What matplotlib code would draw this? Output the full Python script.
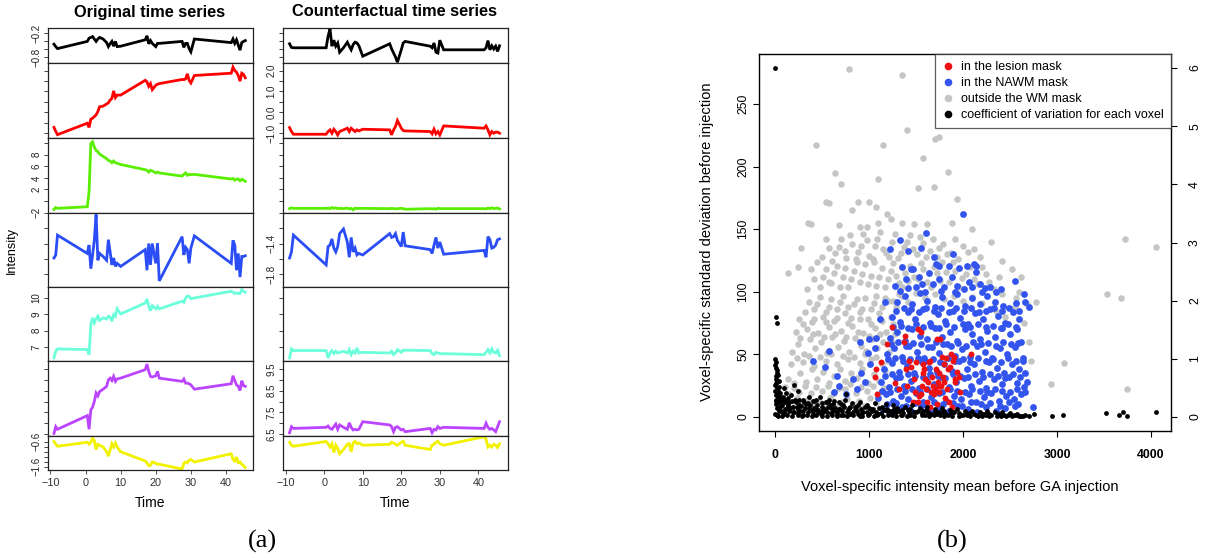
import matplotlib
matplotlib.use('Agg')
import matplotlib.pyplot as plt
from matplotlib.lines import Line2D
import numpy as np

plt.rcParams['font.family'] = ['Liberation Sans', 'DejaVu Sans']

# ---------------- (a) time series ----------------
t = [-9, -8.5, -8, 0.5, 1, 1.5, 2, 2.5, 3, 3.5, 4, 5, 6, 6.5, 7, 7.5, 8, 8.5, 9, 10,
     17, 17.5, 18, 18.5, 19, 20, 20.5, 21, 27.5, 28, 28.5, 29, 29.5, 30, 31,
     41.5, 42, 42.5, 43, 43.5, 44, 44.5, 45, 45.5]

orig_black = [-0.48, -0.54, -0.59, -0.41, -0.33, -0.31, -0.29, -0.35, -0.41, -0.35, -0.31, -0.35,
              -0.44, -0.54, -0.47, -0.41, -0.53, -0.41, -0.54, -0.53, -0.37, -0.27, -0.47, -0.39,
              -0.46, -0.54, -0.46, -0.46, -0.41, -0.56, -0.46, -0.46, -0.59, -0.67, -0.35,
              -0.44, -0.35, -0.46, -0.37, -0.50, -0.63, -0.44, -0.41, -0.39]
orig_red = [-0.73, -0.92, -1.08, -0.53, -0.73, -0.34, -0.29, -0.21, -0.13, 0.03, 0.26, 0.29,
            0.39, 0.45, 0.58, 0.66, 1.02, 0.70, 0.82, 0.82, 1.53, 1.45, 1.24, 1.37,
            1.08, 1.29, 1.34, 1.37, 1.57, 1.56, 1.60, 1.84, 1.53, 1.40, 1.76,
            1.87, 2.16, 2.00, 1.92, 1.76, 1.49, 1.87, 1.81, 1.65]
orig_green = [-1.43, -1.1, -1.25, -0.97, 1.6, 9.9, 10.2, 9.3, 8.7, 8.5, 8.1, 7.7,
              7.3, 7.0, 6.9, 6.6, 6.9, 6.6, 6.5, 6.3, 5.4, 5.3, 5.0, 5.3,
              5.2, 4.85, 5.0, 4.85, 4.3, 4.6, 4.85, 4.45, 4.6, 4.55, 4.6,
              3.8, 3.9, 3.6, 3.75, 3.8, 3.5, 3.75, 3.6, 3.4]
orig_blue = [-1.59, -1.55, -1.29, -1.53, -1.42, -1.73, -1.55, -1.35, -1.02, -1.62, -1.53, -1.57,
             -1.62, -1.35, -1.51, -1.68, -1.59, -1.70, -1.66, -1.70, -1.48, -1.75, -1.40, -1.68,
             -1.40, -1.66, -1.40, -1.89, -1.31, -1.55, -1.45, -1.48, -1.66, -1.46, -1.30,
             -1.66, -1.36, -1.42, -1.75, -1.53, -1.84, -1.57, -1.57, -1.56]
orig_cyan = [6.33, 6.74, 6.88, 6.84, 6.53, 8.37, 8.78, 8.47, 8.71, 8.88, 8.63, 8.78,
             8.71, 8.88, 8.82, 8.57, 8.98, 8.88, 9.33, 9.02, 9.69, 9.94, 9.49, 9.22,
             9.53, 9.33, 9.49, 9.33, 9.80, 9.73, 10.0, 10.1, 10.1, 9.96, 10.0,
             10.41, 10.35, 10.27, 10.31, 10.27, 10.27, 10.51, 10.41, 10.35]
orig_purple = [6.53, 6.84, 6.72, 7.35, 6.72, 7.61, 7.74, 8.0, 8.39, 8.26, 8.46, 8.57,
               8.70, 9.0, 9.08, 8.97, 9.16, 8.93, 9.04, 9.08, 9.47, 9.73, 9.39, 9.16,
               9.13, 9.19, 9.39, 9.08, 8.93, 9.04, 8.85, 8.85, 8.82, 8.77, 8.57,
               8.82, 9.19, 8.97, 8.77, 8.70, 8.51, 8.96, 8.73, 8.70]
orig_yellow = [-0.60, -0.71, -0.79, -0.63, -0.71, -0.63, -0.47, -0.56, -0.92, -0.71, -0.75, -0.82,
               -1.01, -1.19, -0.94, -0.69, -0.82, -0.66, -0.82, -1.01, -1.38, -1.45, -1.57, -1.55,
               -1.42, -1.47, -1.51, -1.51, -1.70, -1.47, -1.42, -1.45, -1.35, -1.32, -1.42,
               -1.09, -1.32, -1.38, -1.22, -1.45, -1.42, -1.51, -1.57, -1.64]

cf_black = [-0.47, -0.56, -0.57, -0.57, -0.28, -0.10, -0.53, -0.38, -0.53, -0.45, -0.68, -0.57,
            -0.43, -0.53, -0.62, -0.49, -0.43, -0.45, -0.52, -0.78, -0.47, -0.60, -0.70, -0.80,
            -0.93, -0.62, -0.45, -0.41, -0.53, -0.57, -0.45, -0.68, -0.70, -0.38, -0.62,
            -0.62, -0.57, -0.39, -0.62, -0.52, -0.60, -0.53, -0.66, -0.52]
cf_red = [-0.74, -0.93, -1.06, -1.06, -0.93, -0.85, -1.01, -0.82, -0.93, -1.09, -0.93, -0.85,
          -0.77, -0.93, -0.77, -0.85, -0.93, -0.85, -0.90, -0.82, -0.85, -1.09, -0.85, -0.69,
          -0.40, -0.77, -0.88, -0.90, -0.93, -1.04, -0.82, -1.04, -0.93, -1.09, -0.66,
          -0.77, -0.66, -0.85, -1.09, -0.93, -1.01, -0.96, -0.96, -1.01]
cf_green = [-1.3, -1.15, -1.25, -1.25, -1.2, -1.3, -1.1, -1.25, -1.15, -1.3, -1.25, -1.3,
            -1.2, -1.35, -1.25, -1.5, -1.2, -1.3, -1.25, -1.25, -1.3, -1.25, -1.3, -1.35,
            -1.3, -1.25, -1.3, -1.4, -1.3, -1.35, -1.3, -1.4, -1.25, -1.3, -1.3,
            -1.3, -1.35, -1.2, -1.3, -1.15, -1.3, -1.25, -1.2, -1.35]
cf_blue = [-1.59, -1.51, -1.29, -1.68, -1.44, -1.42, -1.34, -1.46, -1.51, -1.44, -1.27, -1.21,
           -1.38, -1.58, -1.32, -1.51, -1.46, -1.55, -1.53, -1.55, -1.27, -1.32, -1.31, -1.27,
           -1.36, -1.44, -1.25, -1.43, -1.48, -1.53, -1.42, -1.32, -1.46, -1.38, -1.54,
           -1.49, -1.58, -1.31, -1.35, -1.46, -1.45, -1.42, -1.35, -1.34]
cf_cyan = [6.33, 6.88, 6.78, 6.78, 6.33, 6.63, 6.78, 6.59, 6.74, 6.63, 6.67, 6.74,
           6.63, 6.84, 6.53, 6.74, 6.63, 6.94, 6.63, 6.67, 6.63, 6.74, 6.53, 6.63,
           6.84, 6.67, 6.80, 6.80, 6.78, 6.59, 6.53, 6.67, 6.63, 6.59, 6.59,
           6.53, 6.67, 6.84, 6.63, 6.88, 6.67, 6.63, 6.80, 6.47]
cf_purple = [6.56, 6.84, 6.76, 6.81, 6.87, 6.76, 6.72, 6.84, 6.96, 6.72, 6.92, 6.81,
             6.72, 7.02, 6.81, 6.69, 6.72, 6.69, 6.72, 7.07, 6.92, 6.84, 6.61, 6.81,
             6.84, 6.69, 6.72, 6.61, 6.76, 6.56, 6.72, 6.69, 6.84, 6.76, 6.81,
             6.76, 7.0, 6.81, 6.72, 6.76, 6.69, 6.61, 6.84, 7.07]
cf_yellow = [-0.63, -0.75, -0.79, -0.60, -0.69, -0.82, -0.69, -1.04, -0.75, -0.88, -1.09, -0.92,
             -0.71, -0.69, -1.01, -0.66, -0.59, -0.69, -0.66, -0.75, -0.71, -0.63, -0.66, -0.71,
             -0.75, -0.63, -0.59, -0.75, -0.92, -0.75, -0.71, -0.63, -0.59, -0.69, -0.75,
             -0.41, -0.50, -0.82, -0.75, -0.82, -0.71, -0.75, -0.84, -0.69]

time_ticks = [-10, 0, 10, 20, 30, 40]

# ---------------- (b) scatter ----------------
gray_pts = [
    (120, 12), (180, 8), (230, 15), (290, 10), (350, 14), (410, 9), (470, 13), (530, 11), (590, 15),
    (650, 8), (710, 12), (770, 14), (830, 10), (890, 13), (950, 9), (1010, 15), (1080, 11), (150, 18),
    (260, 20), (380, 19), (500, 21), (620, 18), (740, 22), (860, 19), (980, 21), (1100, 18),
    (110, 24), (200, 23), (320, 25), (440, 24), (560, 25), (680, 23), (800, 26), (920, 24), (1040, 25),
    (1160, 23),
    (140, 30), (200, 27), (270, 35), (330, 28), (390, 38), (450, 30), (510, 36), (570, 27), (630, 33),
    (690, 38), (750, 29), (810, 35), (870, 31), (930, 38), (990, 27), (1050, 34), (1110, 29),
    (1170, 37), (170, 42), (300, 44), (420, 41), (540, 45), (660, 42), (780, 46), (900, 43),
    (1020, 46), (1140, 42),
    (230, 47), (360, 49), (480, 48), (600, 50), (720, 49), (840, 48), (960, 50), (1080, 48), (1200, 45),
    (180, 52), (240, 58), (310, 50), (370, 62), (430, 55), (490, 60), (550, 51), (610, 64), (670, 56),
    (730, 61), (790, 52), (850, 63), (910, 57), (970, 53), (1030, 62), (1090, 55), (1150, 60),
    (1210, 52), (220, 68), (340, 70), (460, 67), (580, 72), (700, 69), (820, 73), (940, 67),
    (1060, 71), (1180, 68), (1280, 66),
    (270, 63), (400, 66), (520, 64), (640, 66), (760, 64), (880, 68), (1000, 65), (1120, 66), (1240, 60),
    (300, 74), (420, 78), (540, 76), (660, 79), (780, 75), (900, 78), (1020, 74), (1140, 77), (1260, 74),
    (260, 78), (320, 84), (390, 76), (450, 90), (510, 80), (570, 88), (630, 77), (690, 92), (750, 83),
    (810, 79), (870, 94), (930, 86), (990, 78), (1050, 91), (1110, 83), (1170, 95), (1230, 80),
    (1290, 88), (1350, 97), (1420, 92), (1500, 99), (1600, 95), (1700, 98), (1800, 94), (1900, 97),
    (2000, 93), (2100, 96), (2200, 91), (2350, 85), (2450, 80), (2550, 88), (2680, 90), (2780, 92),
    (360, 92), (480, 96), (600, 94), (720, 97), (840, 90), (960, 95), (1080, 97), (1200, 93),
    (1320, 98), (420, 86), (540, 84), (660, 86), (780, 88), (900, 84), (1020, 86), (1140, 88),
    (1260, 93),
    (340, 102), (420, 110), (480, 104), (540, 118), (600, 107), (660, 121), (720, 112), (780, 104),
    (840, 117), (900, 108), (960, 122), (1020, 113), (1080, 105), (1140, 119), (1200, 110),
    (1260, 123), (1320, 107), (1380, 115), (1440, 121), (1520, 110), (1580, 118), (1660, 104),
    (1720, 115), (1780, 124), (1850, 108), (1920, 117), (1990, 111), (2080, 120), (2160, 106),
    (2240, 114), (2330, 102), (2420, 98),
    (380, 118), (450, 124), (510, 112), (570, 108), (630, 115), (690, 104), (750, 119), (810, 110),
    (870, 124), (930, 114), (990, 106), (1050, 124), (1110, 112), (1170, 104), (1230, 117),
    (1290, 113), (1350, 104), (1410, 109), (1480, 112), (1550, 123), (1620, 108), (1690, 120),
    (1760, 109), (1820, 116), (1890, 124), (1960, 104), (2030, 114), (2120, 110), (2200, 120),
    (2280, 108), (2380, 112),
    (500, 128), (570, 135), (640, 131), (700, 142), (760, 127), (820, 138), (880, 132), (940, 146),
    (1000, 129), (1060, 137), (1120, 148), (1180, 131), (1240, 140), (1310, 127), (1370, 136),
    (1440, 145), (1510, 130), (1580, 139), (1650, 133), (1720, 128), (1790, 138), (1870, 131),
    (1950, 126), (2050, 132), (2180, 128), (680, 153), (980, 152), (1100, 155), (1230, 158),
    (1620, 154),
    (540, 142), (610, 125), (680, 136), (740, 133), (800, 145), (860, 126), (920, 137), (980, 141),
    (1040, 126), (1090, 142), (1150, 134), (1210, 128), (1280, 146), (1340, 131), (1400, 140),
    (1470, 134), (1540, 144), (1610, 128), (1680, 142), (1750, 135), (1830, 130), (1910, 142),
    (2000, 137), (2120, 134),
    (140, 115), (250, 120), (280, 135), (350, 155), (385, 154), (440, 217), (540, 172), (570, 171),
    (640, 195), (700, 186), (790, 278), (820, 165), (880, 172), (900, 152), (1000, 172), (1070, 168),
    (1100, 190), (1150, 217), (1190, 162), (1350, 273), (1400, 229), (1350, 155), (1480, 154),
    (1520, 183), (1570, 207), (1700, 222), (1745, 224), (1690, 184), (1840, 196), (1940, 174),
    (1880, 155), (2100, 150), (2300, 140), (2420, 125), (2520, 118), (2620, 112), (3720, 142),
    (4050, 136), (3530, 98), (3680, 95), (3070, 43), (2940, 26), (3740, 22),
    (2600, 100), (2650, 75), (2700, 60), (2720, 45), (2560, 95),
]
blue_pts = [
    (1150, 6), (1250, 4), (1350, 8), (1450, 5), (1550, 9), (1650, 4), (1750, 7), (1850, 5), (1950, 9),
    (2050, 6), (2150, 4), (2250, 8), (2350, 5), (2450, 7), (2550, 9),
    (1190, 10), (1290, 11), (1390, 9), (1490, 11), (1590, 10), (1690, 12), (1790, 10), (1890, 11),
    (1990, 9), (2090, 12), (2190, 10), (2290, 11), (2390, 9), (2490, 12), (2590, 10),
    (1100, 15), (1180, 18), (1260, 13), (1340, 17), (1420, 14), (1500, 19), (1580, 12), (1660, 16),
    (1740, 19), (1820, 13), (1900, 17), (1980, 14), (2060, 18), (2140, 12), (2220, 16), (2300, 19),
    (2380, 13), (2460, 17), (2540, 14), (2620, 18),
    (1140, 21), (1220, 20), (1300, 22), (1380, 21), (1460, 22), (1540, 20), (1620, 22), (1700, 21),
    (1780, 20), (1860, 22), (1940, 21), (2020, 20), (2100, 22), (2180, 21), (2260, 20), (2340, 22),
    (2420, 21), (2500, 20), (2580, 22), (2660, 20),
    (1130, 28), (1210, 24), (1290, 31), (1370, 25), (1450, 29), (1530, 23), (1610, 30), (1690, 26),
    (1770, 32), (1850, 24), (1930, 28), (2010, 31), (2090, 25), (2170, 29), (2250, 23), (2330, 30),
    (2410, 26), (2490, 32), (2570, 27), (2650, 24),
    (1170, 33), (1250, 34), (1330, 32), (1410, 34), (1490, 33), (1570, 32), (1650, 34), (1730, 33),
    (1810, 31), (1890, 34), (1970, 33), (2050, 32), (2130, 34), (2210, 32), (2290, 34), (2370, 33),
    (2450, 31), (2530, 34), (2610, 32),
    (1160, 38), (1240, 43), (1320, 36), (1400, 41), (1480, 35), (1560, 44), (1640, 39), (1720, 36),
    (1800, 42), (1880, 37), (1960, 45), (2040, 38), (2120, 42), (2200, 36), (2280, 44), (2360, 39),
    (2440, 35), (2520, 42), (2600, 38),
    (1200, 46), (1280, 47), (1360, 45), (1440, 46), (1520, 47), (1600, 45), (1680, 46), (1760, 44),
    (1840, 47), (1920, 45), (2000, 46), (2080, 44), (2160, 47), (2240, 45), (2320, 46), (2400, 44),
    (2480, 47), (2560, 45), (2640, 47),
    (1190, 50), (1270, 55), (1350, 48), (1430, 57), (1510, 52), (1590, 47), (1670, 56), (1750, 51),
    (1830, 58), (1910, 49), (1990, 54), (2070, 48), (2150, 57), (2230, 52), (2310, 47), (2390, 55),
    (2470, 50), (2550, 56),
    (1230, 58), (1310, 60), (1390, 57), (1470, 59), (1550, 58), (1630, 56), (1710, 60), (1790, 58),
    (1870, 57), (1950, 59), (2030, 57), (2110, 60), (2190, 58), (2270, 59), (2350, 57), (2430, 60),
    (2510, 58), (2590, 59),
    (1220, 63), (1300, 68), (1380, 61), (1460, 70), (1540, 65), (1620, 62), (1700, 71), (1780, 64),
    (1860, 68), (1940, 61), (2020, 70), (2100, 66), (2180, 62), (2260, 69), (2340, 64), (2420, 71),
    (2500, 66),
    (1260, 72), (1340, 73), (1420, 71), (1500, 74), (1580, 72), (1660, 73), (1740, 71), (1820, 74),
    (1900, 72), (2000, 74), (2080, 72), (2160, 74), (2240, 72), (2320, 73), (2400, 71), (2480, 74),
    (2560, 72),
    (1250, 80), (1330, 76), (1410, 84), (1490, 78), (1570, 86), (1650, 75), (1730, 82), (1810, 77),
    (1890, 85), (1970, 79), (2050, 74), (2130, 83), (2210, 78), (2290, 86), (2370, 81), (2450, 75),
    (2530, 84), (2600, 78),
    (1290, 85), (1370, 87), (1450, 86), (1530, 84), (1610, 87), (1690, 85), (1770, 87), (1850, 84),
    (1930, 87), (2010, 85), (2090, 87), (2170, 84), (2250, 85), (2330, 87), (2410, 85), (2490, 87),
    (1300, 92), (1380, 97), (1460, 90), (1540, 99), (1620, 93), (1700, 88), (1780, 96), (1860, 91),
    (1940, 98), (2020, 89), (2100, 95), (2180, 90), (2260, 97), (2340, 92), (2430, 89), (2560, 91),
    (2660, 92),
    (1330, 101), (1420, 103), (1530, 112), (1600, 100), (1680, 106), (1770, 101), (1920, 100),
    (2010, 102), (2100, 104), (2200, 100), (2290, 104), (2400, 102),
    (1280, 105), (1390, 110), (1470, 118), (1560, 106), (1640, 115), (1710, 122), (1800, 104),
    (1880, 112), (1960, 119), (2060, 108), (2140, 116), (2230, 103), (2350, 100), (1350, 120),
    (1500, 104), (1750, 110), (1850, 121), (1940, 105), (2040, 121),
    (1220, 134), (1330, 141), (1420, 133), (1450, 118), (1550, 135), (1610, 147), (1690, 128),
    (1740, 121), (1890, 130), (2000, 162), (2120, 122), (2140, 121), (2180, 106), (2550, 109),
    (2650, 98), (2700, 88),
    (400, 45), (530, 40), (580, 53), (630, 20), (660, 33), (680, 25), (760, 18), (830, 30), (870, 22),
    (920, 35), (960, 28), (990, 51), (1010, 42), (1060, 55), (1080, 63), (1120, 78), (1170, 92),
    (1000, 62), (900, 60),
    (2640, 45), (2660, 35), (2620, 60), (2680, 28), (2750, 8), (2580, 70), (2600, 85),
]
red_pts = [
    (1060, 32), (1080, 38), (1090, 18), (1130, 44), (1190, 58), (1240, 72), (1280, 27), (1320, 22),
    (1370, 60), (1380, 65), (1390, 38), (1400, 25), (1430, 45), (1450, 40), (1470, 12), (1490, 20),
    (1500, 44), (1520, 70), (1530, 17), (1550, 68), (1560, 25), (1570, 35), (1580, 42), (1600, 30),
    (1610, 22), (1620, 12), (1630, 28), (1640, 44), (1650, 8), (1660, 20), (1670, 32), (1680, 25),
    (1690, 18), (1700, 22), (1710, 38), (1720, 62), (1730, 28), (1740, 20), (1750, 35), (1760, 62),
    (1770, 25), (1780, 48), (1790, 32), (1800, 28), (1810, 15), (1820, 47), (1830, 22), (1840, 38),
    (1850, 12), (1860, 40), (1870, 50), (1880, 8), (1890, 45), (1900, 48), (1910, 30), (1920, 28),
    (1940, 36), (1960, 32), (1970, 20), (2090, 50), (1550, 18), (1520, 12), (1590, 38), (1750, 25),
    (1650, 45), (1480, 30), (1720, 10), (1800, 42),
]
# coefficient of variation (right axis)
cv_pts = [
    (0, 6.0), (10, 1.72), (25, 1.62), (5, 1.0), (15, 0.95), (8, 0.85), (20, 0.8), (30, 0.72),
    (12, 0.65), (40, 0.62), (5, 0.55), (22, 0.5), (35, 0.45), (50, 0.42), (10, 0.38), (28, 0.33),
    (45, 0.3), (60, 0.28), (15, 0.22), (38, 0.18), (55, 0.12), (70, 0.08), (5, 0.05), (30, 0.02),
    (3, 0.9), (18, 0.75), (8, 0.7), (25, 0.6), (14, 0.58), (40, 0.52), (3, 0.45), (20, 0.4),
    (55, 0.35), (6, 0.3),
    (80, 0.2), (90, 0.35), (100, 0.5), (110, 0.3), (120, 0.42), (130, 0.15), (150, 0.25), (170, 0.38),
    (200, 0.55), (210, 0.3), (230, 0.18), (250, 0.45), (270, 0.1), (300, 0.3), (330, 0.22),
    (360, 0.35), (390, 0.12), (420, 0.28), (450, 0.2), (480, 0.34), (510, 0.08), (540, 0.25),
    (570, 0.3), (600, 0.15), (630, 0.27), (660, 0.05), (700, 0.22), (740, 0.3), (760, 0.4),
    (780, 0.12), (820, 0.24), (860, 0.18), (900, 0.26), (940, 0.08), (980, 0.2), (1020, 0.14),
    (1060, 0.24), (1100, 0.06), (1140, 0.18), (1180, 0.22), (1220, 0.1), (1260, 0.2), (1300, 0.15),
    (1340, 0.04), (1380, 0.18), (1420, 0.12), (1460, 0.2), (1500, 0.08), (1540, 0.15), (1580, 0.1),
    (1620, 0.17), (1660, 0.05), (1700, 0.13), (1740, 0.09), (1780, 0.15), (1820, 0.06), (1860, 0.12),
    (1900, 0.08), (1940, 0.13), (1980, 0.04), (2020, 0.1), (2060, 0.07), (2100, 0.11), (2140, 0.03),
    (2180, 0.09), (2220, 0.06), (2260, 0.1), (2300, 0.03), (2340, 0.08), (2380, 0.05), (2420, 0.09),
    (2460, 0.02), (2500, 0.07), (2540, 0.04), (2580, 0.06), (2620, 0.02), (2660, 0.04),
    (2760, 0.05), (2950, 0.02), (3060, 0.03), (3520, 0.07), (3660, 0.04), (3700, 0.08), (3740, 0.01),
    (4050, 0.08),
    (100, 0.05), (200, 0.08), (300, 0.04), (400, 0.06), (500, 0.02), (600, 0.07), (700, 0.03),
    (800, 0.06), (900, 0.02), (1000, 0.05), (1200, 0.03), (1400, 0.02), (1600, 0.04), (1800, 0.02),
    (2000, 0.03), (2200, 0.01), (2400, 0.02), (2600, 0.01), (160, 0.15), (260, 0.2), (360, 0.16),
    (460, 0.12), (560, 0.18), (680, 0.14), (840, 0.1), (1000, 0.16), (1160, 0.12), (1320, 0.1),
    (20, 0.03), (70, 0.01), (130, 0.04), (180, 0.02), (240, 0.03), (290, 0.01), (340, 0.04),
    (390, 0.02), (440, 0.03), (490, 0.05), (550, 0.01), (610, 0.03), (660, 0.02), (720, 0.04),
    (770, 0.01), (830, 0.03), (880, 0.05), (930, 0.02), (990, 0.03), (1050, 0.01), (1090, 0.04),
    (1150, 0.02), (1240, 0.04), (1290, 0.01), (1350, 0.03), (1440, 0.04), (1480, 0.01), (1560, 0.03),
    (1640, 0.01), (1690, 0.03), (1760, 0.04), (1840, 0.03), (1880, 0.01), (1960, 0.02), (2040, 0.04),
    (2080, 0.01), (2160, 0.02), (2240, 0.03), (2280, 0.01), (2360, 0.02), (2440, 0.03), (2520, 0.01),
    (2560, 0.03), (2640, 0.02), (2700, 0.01),
    (40, 0.1), (95, 0.08), (145, 0.11), (190, 0.09), (245, 0.07), (295, 0.1), (350, 0.09), (405, 0.11),
    (455, 0.08), (505, 0.1), (555, 0.09), (615, 0.11), (665, 0.08), (715, 0.1), (765, 0.09),
    (815, 0.07), (870, 0.1), (925, 0.09), (975, 0.08), (1030, 0.1), (1080, 0.09), (1130, 0.07),
    (1190, 0.1), (1240, 0.08), (1290, 0.09), (1360, 0.07), (1430, 0.08), (1480, 0.09), (1560, 0.07),
    (1630, 0.08), (1720, 0.06), (1790, 0.08), (1870, 0.06), (1960, 0.07), (2040, 0.05), (2120, 0.06),
    (2200, 0.05), (2280, 0.06), (2400, 0.05), (2480, 0.04),
    (25, 0.16), (65, 0.19), (110, 0.14), (140, 0.2), (190, 0.17), (240, 0.14), (280, 0.19),
    (320, 0.15), (370, 0.2), (410, 0.16), (440, 0.13), (500, 0.18), (530, 0.14), (590, 0.2),
    (640, 0.16), (690, 0.13), (730, 0.18), (790, 0.15), (850, 0.17), (910, 0.14), (960, 0.17),
    (1040, 0.13), (1110, 0.15), (1190, 0.13), (1270, 0.14), (1350, 0.12), (1440, 0.13), (1520, 0.11),
    (1610, 0.12), (1700, 0.1), (1800, 0.1), (1880, 0.09),
    (15, 0.28), (45, 0.25), (75, 0.3), (105, 0.26), (135, 0.32), (180, 0.28), (220, 0.25), (260, 0.3),
    (310, 0.26), (350, 0.24), (400, 0.27), (440, 0.3), (500, 0.24), (560, 0.26), (620, 0.22),
    (680, 0.25), (720, 0.2), (800, 0.18), (880, 0.21),
]
legend_labels = ['in the lesion mask', 'in the NAWM mask', 'outside the WM mask',
                 'coefficient of variation for each voxel']

# ---------------- figure ----------------
W, H = 1228, 558
fig = plt.figure(figsize=(W / 100, H / 100), dpi=100)


def box(x0, y0, x1, y1):
    return [x0 / W, 1 - y1 / H, (x1 - x0) / W, (y1 - y0) / H]


def ftext(x, y, s, **kw):
    fig.text(x / W, 1 - y / H, s, ha='center', va='center', **kw)


colors = ['#000000', '#FF0000', '#5AEE00', '#2A4DF5', '#6CFFDC', '#BB44FF', '#F2F200']
orig_series = [orig_black, orig_red, orig_green, orig_blue, orig_cyan, orig_purple, orig_yellow]
cf_series = [cf_black, cf_red, cf_green, cf_blue, cf_cyan, cf_purple, cf_yellow]
ylims = [(-0.95, -0.075), (-1.24, 2.36), (-2.05, 10.86), (-1.97, -1.0),
         (6.14, 10.67), (6.41, 9.87), (-1.74, -0.38)]
row_ticks = [[-0.8, -0.6, -0.4, -0.2], [-1.0, -0.5, 0, 0.5, 1.0, 1.5, 2.0], [-2, 0, 2, 4, 6, 8, 10],
             [-1.8, -1.6, -1.4, -1.2], [7, 8, 9, 10], [6.5, 7, 7.5, 8, 8.5, 9, 9.5],
             [-1.6, -1.4, -1.2, -1.0, -0.8, -0.6]]
orig_labels = [{-0.8: '\u22120.8', -0.2: '\u22120.2'}, {},
               {-2: '\u22122', 2: '2', 4: '4', 6: '6', 8: '8'}, {},
               {7: '7', 8: '8', 9: '9', 10: '10'}, {}, {-1.6: '\u22121.6', -0.6: '\u22120.6'}]
cf_labels = [{}, {-1.0: '\u22121.0', 0: '0.0', 1.0: '1.0', 2.0: '2.0'}, {},
             {-1.8: '\u22121.8', -1.4: '\u22121.4'}, {},
             {6.5: '6.5', 7.5: '7.5', 8.5: '8.5', 9.5: '9.5'}, None]

rows = [28, 63, 138, 213, 287, 361, 436, 470]
cols = [(48, 253), (283, 508)]
for c, (series_set, labels_set) in enumerate([(orig_series, orig_labels), (cf_series, cf_labels)]):
    for r in range(7):
        ax = fig.add_axes(box(cols[c][0], rows[r], cols[c][1], rows[r + 1]))
        ax.plot(t, series_set[r], color=colors[r], lw=2.0, solid_joinstyle='miter')
        ax.set_xlim(-10.7, 47.7)
        ax.set_ylim(*ylims[r])
        for sp in ax.spines.values():
            sp.set_linewidth(0.9)
            sp.set_color('#222222')
        labs = labels_set[r]
        if labs is None:
            ax.set_yticks([])
        else:
            ax.set_yticks(row_ticks[r])
            ax.set_yticklabels([labs.get(v, '') for v in row_ticks[r]])
        ax.tick_params(axis='y', direction='out', length=3, width=0.6, labelsize=7,
                       pad=1.5, labelrotation=90, colors='#222222')
        for lab in ax.get_yticklabels():
            lab.set_va('center')
        if r == 6:
            ax.set_xticks(time_ticks)
            ax.set_xticklabels([('\u2212' + str(-v)) if v < 0 else str(v) for v in time_ticks])
            ax.tick_params(axis='x', direction='out', length=3, width=0.6, labelsize=7.8,
                           pad=3, colors='#333333')
        else:
            ax.set_xticks([])

ftext(150, 12, 'Original time series', fontsize=11.8, fontweight='bold')
ftext(395, 12, 'Counterfactual time series', fontsize=11.8, fontweight='bold')
ftext(12, 250, 'Intensity', fontsize=9, rotation=90)
ftext(150, 503, 'Time', fontsize=10)
ftext(395, 503, 'Time', fontsize=10)
ftext(262, 541, '(a)', fontsize=19, family='Liberation Serif')
ftext(952, 541, '(b)', fontsize=19, family='Liberation Serif')

# scatter
ax = fig.add_axes(box(759, 54, 1171, 431))
g = np.array(gray_pts).T
b = np.array(blue_pts).T
rr = np.array(red_pts).T
k = np.array(cv_pts).T
ax.scatter(g[0], g[1], s=22, color='#C4C6C4', lw=0)
ax.scatter(b[0], b[1], s=24, color='#3355EE', lw=0)
ax.scatter(rr[0], rr[1], s=18, color='#EE1111', lw=0)
ax.set_xlim(-170, 4213)
ax.set_ylim(-11.2, 290)
ax.set_xticks([0, 1000, 2000, 3000, 4000])
ax.set_yticks([0, 50, 100, 150, 200, 250])
ax.tick_params(axis='x', direction='out', length=4, labelsize=8.8, pad=9)
ax.tick_params(axis='y', direction='out', length=4, labelsize=8.8, labelrotation=90, pad=3)
for lab in ax.get_xticklabels():
    lab.set_fontweight('bold')
for lab in ax.get_yticklabels():
    lab.set_va('center')
for sp in ax.spines.values():
    sp.set_linewidth(1.0)
    sp.set_color('#333333')

ax2 = ax.twinx()
ax2.scatter(k[0], k[1], s=12, color='black', lw=0)
ax2.set_ylim(-0.24, 6.24)
ax2.set_yticks([0, 1, 2, 3, 4, 5, 6])
ax2.tick_params(axis='y', direction='out', length=4, labelsize=8.8, labelrotation=90, pad=9)
for lab in ax2.get_yticklabels():
    lab.set_va('center')

handles = [Line2D([], [], ls='', marker='o', markersize=4.5, color=c, label=l)
           for c, l in zip(['#EE1111', '#3355EE', '#C4C6C4', 'black'], legend_labels)]
leg = ax2.legend(handles=handles, loc='upper right', bbox_to_anchor=(1, 1), borderaxespad=0,
                 fontsize=9, frameon=True, fancybox=False, handlelength=1.0, handletextpad=0.6,
                 labelspacing=0.32, borderpad=0.55)
leg.get_frame().set_edgecolor('#333333')
leg.get_frame().set_linewidth(0.9)

ftext(707, 242, 'Voxel-specific standard deviation before injection', fontsize=10.5, rotation=90)
ftext(960, 487, 'Voxel-specific intensity mean before GA injection', fontsize=10.5)

fig.savefig('out.png', dpi=100)
